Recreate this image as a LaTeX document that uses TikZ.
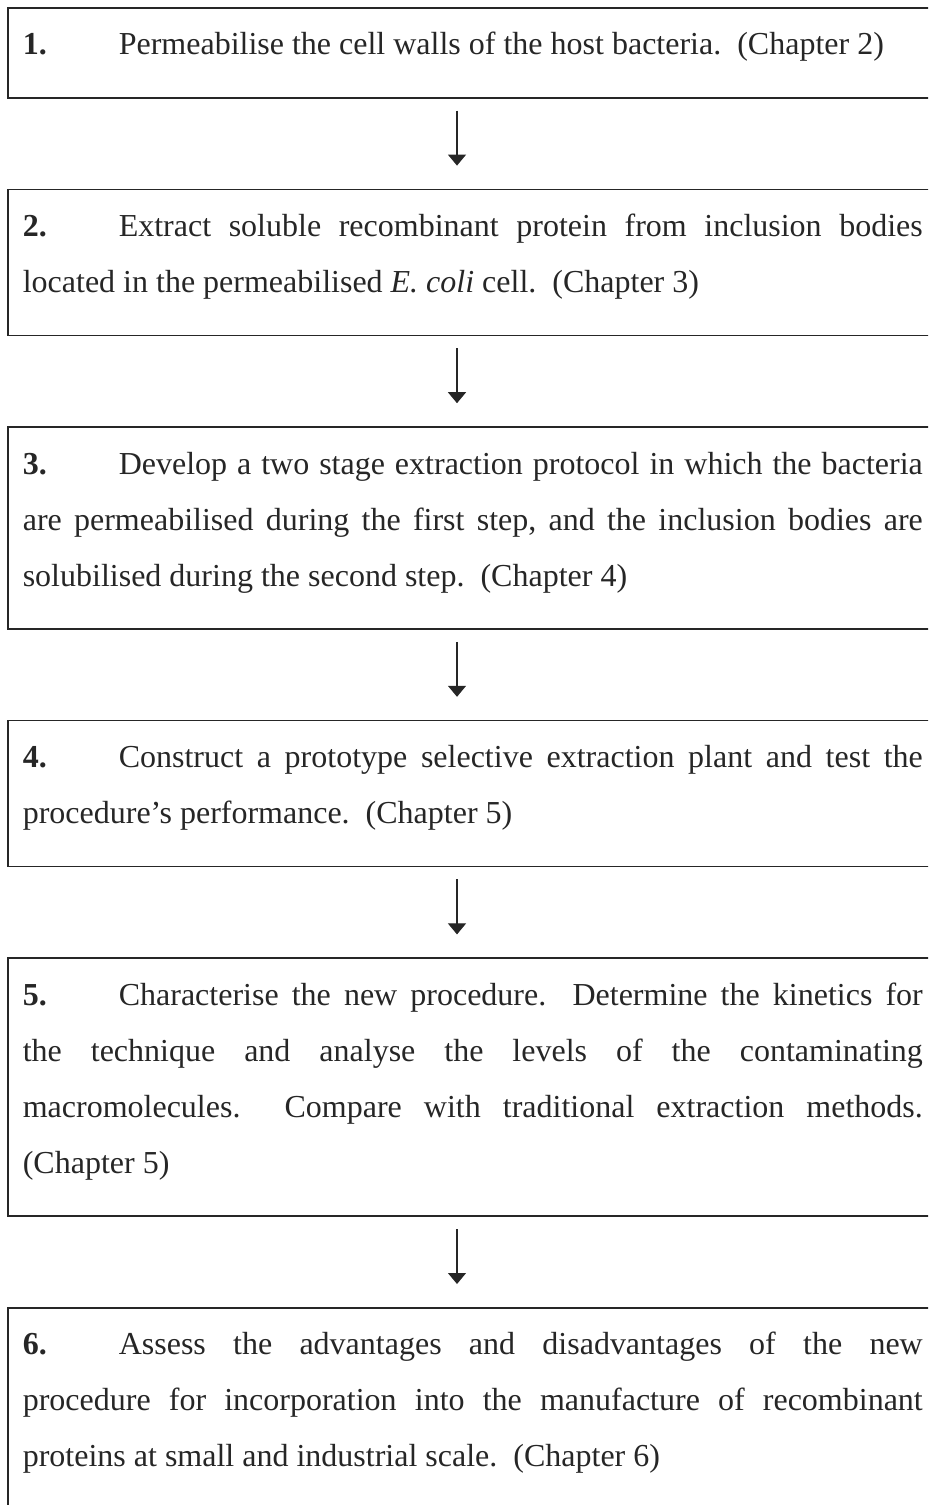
\documentclass[tikz,border=0pt]{standalone}
\usepackage{fontspec}
\setmainfont{Liberation Serif}
\usetikzlibrary{arrows.meta,positioning}

\definecolor{ink}{HTML}{262626}
\newcommand{\stagefont}{\fontsize{16}{28}\selectfont}
\newcommand{\stagenum}[1]{\makebox[48pt][l]{\textbf{#1}}}
\newcommand{\topgap}{\rule{0pt}{23.5pt}}
\newcommand{\botgap}{\rule[-21.5pt]{0pt}{0pt}}

\begin{document}
\frenchspacing
\begin{tikzpicture}[x=0.5pt, y=-0.5pt, >={Triangle[width=9pt,length=5.5pt]},
  stagebox/.style={draw=ink, line width=0.8pt, text=ink, anchor=north west,
    text width=450pt, inner xsep=7.5pt, inner ysep=0pt, align=justify, font=\stagefont},
  flow/.style={->, draw=ink, line width=0.55pt, shorten <=6pt, shorten >=11.5pt}]
\clip (0,0) rectangle (928,1505);
% stages
\node[stagebox] (s1) at (7,7) {\topgap\stagenum{1.}Permeabilise the cell walls of the host bacteria.\ \ (Chapter 2)\botgap};
\node[stagebox, below=45pt of s1.south west, anchor=north west] (s2) {\topgap\stagenum{2.}Extract soluble recombinant protein from inclusion bodies\linebreak
  located in the permeabilised \textit{E. coli} cell.\ \ (Chapter 3)\botgap};
\node[stagebox, below=45pt of s2.south west, anchor=north west] (s3) {\topgap\stagenum{3.}Develop a two stage extraction protocol in which the bacteria\linebreak
  are permeabilised during the first step, and the inclusion bodies are\linebreak
  solubilised during the second step.\ \ (Chapter 4)\botgap};
\node[stagebox, below=45pt of s3.south west, anchor=north west] (s4) {\topgap\stagenum{4.}Construct a prototype selective extraction plant and test the\linebreak
  procedure’s performance.\ \ (Chapter 5)\botgap};
\node[stagebox, below=45pt of s4.south west, anchor=north west] (s5) {\topgap\stagenum{5.}Characterise the new procedure.\ \ Determine the kinetics for\linebreak
  the technique and analyse the levels of the contaminating\linebreak
  macromolecules.\ \ Compare with traditional extraction methods.\linebreak
  (Chapter 5)\botgap};
\node[stagebox, below=45pt of s5.south west, anchor=north west] (s6) {\topgap\stagenum{6.}Assess the advantages and disadvantages of the new\linebreak
  procedure for incorporation into the manufacture of recombinant\linebreak
  proteins at small and industrial scale.\ \ (Chapter 6)\botgap};
% arrows
\coordinate (axis) at (457,0);
\foreach \a/\b in {s1/s2, s2/s3, s3/s4, s4/s5, s5/s6}
  \draw[flow] (\a.south -| axis) -- (\b.north -| axis);
\end{tikzpicture}
\end{document}
